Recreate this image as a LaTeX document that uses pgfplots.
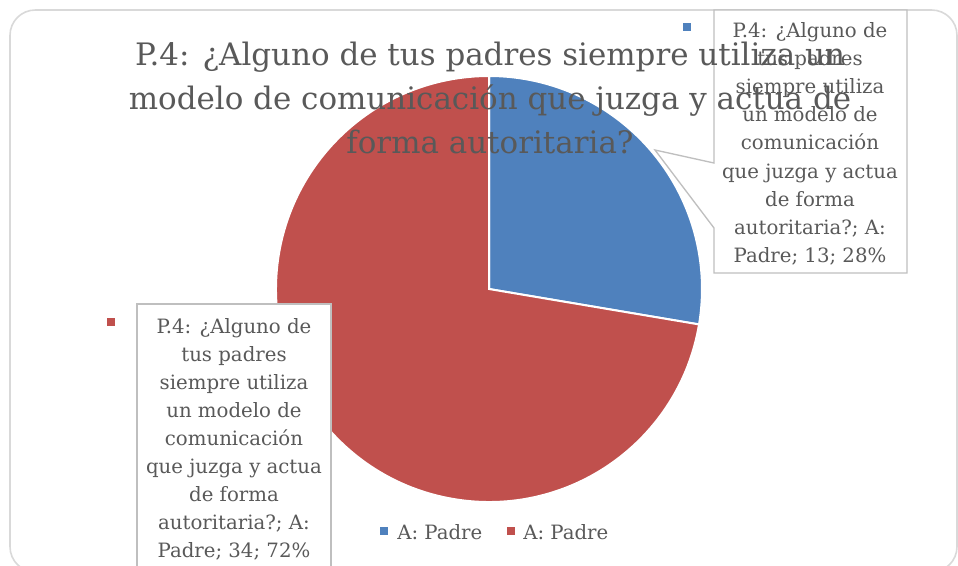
\documentclass[border=0pt]{standalone}
\usepackage{fontspec}
\setmainfont{DejaVu Serif}
\usepackage{pgfplots}
\usepackage{pgfplotstable}
\pgfplotsset{compat=1.18}

\definecolor{sliceblue}{HTML}{4F81BD}
\definecolor{slicered}{HTML}{C0504D}
\definecolor{txt}{HTML}{595959}
\definecolor{boxgray}{HTML}{BFBFBF}
\definecolor{framegray}{HTML}{D9D9D9}

% P.4 answers: A: Padre (two slices)
\pgfplotstableread{
label value
Padre 13
Padre 34
}\piedata

\tikzset{
  title/.style={text=txt,anchor=base,inner sep=0pt,font=\fontsize{23.2pt}{28pt}\selectfont},
  lbl/.style={text=txt,anchor=base,inner sep=0pt,font=\fontsize{14.8pt}{18pt}\selectfont},
}
\newcommand\bl[3]{\node[lbl] at (axis cs:#1,#2) {#3};}

\begin{document}
\begin{tikzpicture}
\pgfplotstablegetelem{0}{value}\of\piedata \pgfmathsetmacro\va{\pgfplotsretval}
\pgfplotstablegetelem{1}{value}\of\piedata \pgfmathsetmacro\vb{\pgfplotsretval}
\pgfmathsetmacro\angend{90-360*\va/(\va+\vb)}
\def\R{159.75pt}
\begin{axis}[
  width=718.5pt, height=423.75pt, scale only axis,
  xmin=0, xmax=958, ymin=0, ymax=565, y dir=reverse,
  hide axis, clip=false,
]
\coordinate (tl) at (axis cs:0,0);
\coordinate (br) at (axis cs:958,565);
% chart frame
\draw[framegray,line width=1.2pt,rounded corners=19pt]
  (axis cs:10,10) rectangle (axis cs:957,572);
% slices
\path[fill=sliceblue,draw=white,line width=1.5pt] (axis cs:489,289) -- ++(90:\R)
  arc[start angle=90,end angle=\angend,radius=\R] -- cycle;
\path[fill=slicered,draw=white,line width=1.5pt] (axis cs:489,289) -- ++(\angend:\R)
  arc[start angle=\angend,end angle=-270,radius=\R] -- cycle;
% left label box
\path[fill=white,draw=boxgray,line width=1pt] (axis cs:137,304) rectangle (axis cs:331,580);
\fill[slicered] (axis cs:107,318) rectangle (axis cs:115,326);
\bl{234}{333.3}{P.4: ¿Alguno de}
\bl{234}{361.3}{tus padres}
\bl{234}{389.3}{siempre utiliza}
\bl{234}{417.3}{un modelo de}
\bl{234}{445.3}{comunicación}
\bl{234}{473.3}{que juzga y actua}
\bl{234}{501.3}{de forma}
\bl{234}{529.3}{autoritaria?; A:}
\bl{234}{557.3}{Padre; 34; 72\%}
% right label box with pointer
\path[fill=white,draw=boxgray,line width=1pt]
  (axis cs:714,10) -- (axis cs:907,10) -- (axis cs:907,273) -- (axis cs:714,273)
  -- (axis cs:714,228) -- (axis cs:655,150) -- (axis cs:714,163) -- cycle;
\fill[sliceblue] (axis cs:683,23) rectangle (axis cs:691,31);
\bl{810}{37.5}{P.4: ¿Alguno de}
\bl{810}{65.6}{tus padres}
\bl{810}{93.7}{siempre utiliza}
\bl{810}{121.8}{un modelo de}
\bl{810}{149.9}{comunicación}
\bl{810}{178.0}{que juzga y actua}
\bl{810}{206.1}{de forma}
\bl{810}{234.2}{autoritaria?; A:}
\bl{810}{262.3}{Padre; 13; 28\%}
% title
\node[title] at (axis cs:490,65) {P.4: ¿Alguno de tus padres siempre utiliza un};
\node[title] at (axis cs:490,109) {modelo de comunicación que juzga y actua de};
\node[title] at (axis cs:490,153) {forma autoritaria?};
% legend
\fill[sliceblue] (axis cs:380,527) rectangle (axis cs:388,535);
\node[lbl,anchor=base west] at (axis cs:397,539) {A: Padre};
\fill[slicered] (axis cs:507,527) rectangle (axis cs:515,535);
\node[lbl,anchor=base west] at (axis cs:523,539) {A: Padre};
\end{axis}
\pgfresetboundingbox
\path[use as bounding box] (tl) rectangle (br);
\end{tikzpicture}
\end{document}
